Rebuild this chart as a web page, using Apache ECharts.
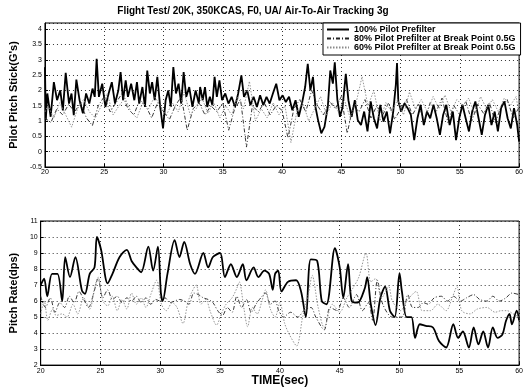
<!DOCTYPE html>
<html>
<head>
<meta charset="utf-8">
<title>Flight Test</title>
<script src="https://cdn.jsdelivr.net/npm/echarts@6/dist/echarts.min.js"></script>
<style>
  html, body { margin: 0; padding: 0; background: #fff; }
  #main { width: 526px; height: 388px; }
</style>
</head>
<body>
<div id="main"></div>
<script>
// axis ticks
var timeTicks = [20, 25, 30, 35, 40, 45, 50, 55, 60];
var stickTicks = [-0.5, 0, 0.5, 1, 1.5, 2, 2.5, 3, 3.5, 4];
var rateTicks = [2, 3, 4, 5, 6, 7, 8, 9, 10, 11];
var seriesNames = [
  "100% Pilot Prefilter",
  "80% Pilot Prefilter at Break Point 0.5G",
  "60% Pilot Prefilter at Break Point 0.5G"
];

// top: pilot pitch stick (G's), [time, value]
var stickFull = [[20,2.76],[20.07,1.03],[20.2,1.9],[20.48,1.14],[20.75,2.27],[21.02,1.68],[21.29,2.0],[21.51,1.35],[21.75,2.57],[22.03,1.57],[22.24,1.9],[22.43,1.19],[22.65,2.35],[22.92,1.68],[23.2,1.25],[23.47,1.9],[23.74,1.57],[24.01,2.06],[24.2,1.79],[24.36,3.03],[24.55,1.79],[24.83,2.22],[25.1,1.46],[25.37,1.9],[25.64,2.27],[25.91,1.57],[26.19,2.0],[26.38,2.6],[26.59,1.68],[26.81,2.33],[27.0,1.79],[27.27,2.22],[27.54,1.68],[27.76,2.27],[27.95,1.57],[28.22,2.11],[28.44,1.46],[28.63,2.65],[28.85,1.9],[29.04,2.27],[29.26,1.68],[29.48,2.44],[29.72,1.46],[29.96,0.76],[30.18,1.68],[30.4,2.0],[30.62,1.46],[30.83,2.76],[31.05,1.9],[31.27,2.22],[31.49,1.57],[31.7,2.6],[31.92,1.79],[32.17,2.11],[32.44,1.46],[32.71,2.0],[32.98,1.57],[33.09,2.11],[33.31,1.68],[33.5,2.11],[33.69,1.46],[33.91,1.79],[34.12,1.52],[34.31,2.44],[34.5,1.79],[34.72,2.33],[34.94,1.68],[35.21,1.9],[35.48,1.57],[35.75,1.79],[36.03,1.46],[36.3,1.9],[36.57,2.49],[36.79,1.79],[37.06,2.0],[37.33,1.52],[37.6,1.79],[37.88,1.46],[38.15,1.84],[38.42,1.52],[38.69,1.79],[38.96,1.57],[39.23,1.9],[39.51,2.22],[39.78,1.68],[40.05,1.84],[40.32,1.62],[40.59,1.79],[40.87,1.35],[41.14,1.68],[41.41,1.14],[41.68,1.57],[41.95,2.11],[42.17,2.87],[42.39,2.0],[42.61,2.44],[42.82,1.46],[43.04,1.03],[43.31,0.6],[43.58,0.81],[43.86,1.46],[44.07,2.65],[44.29,2.22],[44.45,2.92],[44.67,1.68],[44.89,1.14],[45.11,1.46],[45.38,2.54],[45.6,1.68],[45.87,1.14],[46.14,1.68],[46.39,1.03],[46.66,0.87],[46.93,1.31],[47.21,0.66],[47.48,1.64],[47.75,1.09],[48.02,0.76],[48.29,1.53],[48.56,0.98],[48.84,1.31],[49.11,0.6],[49.38,1.31],[49.6,2.18],[49.7,2.89],[49.81,1.64],[50.06,1.31],[50.33,1.58],[50.6,1.42],[50.87,1.2],[51.15,0.38],[51.42,1.09],[51.69,1.53],[51.96,0.87],[52.23,1.31],[52.5,1.09],[52.78,1.53],[53.05,1.09],[53.32,0.55],[53.59,1.2],[53.86,1.53],[54.14,0.87],[54.41,1.31],[54.68,0.38],[54.95,1.09],[55.22,1.53],[55.49,1.09],[55.77,0.66],[56.04,1.31],[56.31,1.64],[56.58,1.09],[56.85,0.55],[57.12,1.2],[57.4,1.53],[57.67,0.87],[57.94,1.31],[58.21,0.66],[58.48,1.42],[58.76,1.64],[59.03,1.09],[59.3,0.76],[59.57,1.42],[59.84,0.87],[60,0.33]];
var stick80 = [[20,1.1],[20.5,0.95],[21,1.4],[21.5,1.2],[22,1.55],[22.5,1.3],[23,1.6],[23.5,1.1],[24,0.85],[24.5,1.5],[25,1.8],[25.5,1.3],[26,1.6],[26.5,1.9],[27,1.4],[27.5,1.2],[28,1.7],[28.5,1.5],[29,1.1],[29.5,1.6],[30,1.3],[30.5,1.05],[31,1.5],[31.5,1.8],[32,0.7],[32.5,1.4],[33,1.6],[33.5,1.2],[34,1.5],[34.5,1.3],[35,1.6],[35.5,0.7],[36,1.4],[36.5,1.7],[37,0.15],[37.5,1.5],[38,1.3],[38.5,1.6],[39,1.2],[39.5,1.5],[40,1.35],[40.5,0.45],[41,1.4],[41.5,1.7],[42,1.3],[42.5,2.0],[43,1.5],[43.5,1.2],[44,1.65],[44.5,1.4],[45,1.8],[45.5,0.6],[46,1.5],[46.5,1.3],[47,1.7],[47.5,1.1],[48,1.5],[48.5,1.2],[49,1.6],[49.5,1.05],[50,1.4],[50.5,1.7],[51,1.2],[51.5,1.55],[52,1.0],[52.5,1.6],[53,1.3],[53.5,1.75],[54,0.95],[54.5,1.5],[55,1.2],[55.5,1.65],[56,1.0],[56.5,1.55],[57,1.25],[57.5,1.6],[58,0.95],[58.5,1.5],[59,1.7],[59.5,1.1],[60,1.45]];
var stick60 = [[20,1.3],[20.25,1.5],[20.75,1.1],[21.25,1.6],[21.75,1.2],[22.25,0.8],[22.75,1.4],[23.25,1.7],[23.75,1.3],[24.25,1.1],[24.75,1.5],[25.25,1.9],[25.75,1.2],[26.25,1.5],[26.75,1.75],[27.25,1.3],[27.75,1.1],[28.25,1.6],[28.75,1.4],[29.25,1.8],[29.75,1.5],[30.25,1.2],[30.75,1.6],[31.25,1.3],[31.75,1.95],[32.25,1.2],[32.75,1.4],[33.25,1.75],[33.75,1.25],[34.25,1.6],[34.75,1.1],[35.25,1.5],[35.75,1.2],[36.25,1.8],[36.75,1.4],[37.25,2.3],[37.75,1.0],[38.25,1.4],[38.75,1.1],[39.25,1.6],[39.75,1.2],[40.25,1.5],[40.75,0.3],[41.25,1.3],[41.75,1.6],[42.25,1.0],[42.75,1.4],[43.25,1.8],[43.75,1.2],[44.25,1.6],[44.75,1.3],[45.25,1.7],[45.75,1.1],[46.25,1.6],[46.75,2.45],[47.25,1.5],[47.75,2.0],[48.25,1.0],[48.75,1.6],[49.25,1.3],[49.75,1.7],[50.25,1.2],[50.75,1.95],[51.25,1.4],[51.75,1.7],[52.25,1.3],[52.75,1.8],[53.25,1.4],[53.75,1.85],[54.25,1.3],[54.75,1.7],[55.25,1.5],[55.75,1.75],[56.25,1.2],[56.75,1.8],[57.25,1.4],[57.75,1.7],[58.25,1.3],[58.75,1.75],[59.25,1.5],[59.75,1.8],[60,1.2]];

// bottom: pitch rate (dps), [time, value]
var rateFull = [[20,7.0],[20.29,7.4],[20.55,6.3],[20.95,7.7],[21.4,7.7],[21.8,6.0],[22.05,8.75],[22.45,7.5],[22.9,8.75],[23.45,6.65],[23.7,6.45],[24.1,7.7],[24.5,8.1],[24.7,10.0],[25.05,9.2],[25.6,7.1],[26.0,7.7],[26.6,8.75],[27.2,9.2],[27.6,8.5],[28.0,8.1],[28.4,7.8],[29.0,9.4],[29.4,7.9],[29.8,9.4],[30.05,6.5],[30.2,6.0],[30.6,7.7],[31.2,9.8],[31.6,8.75],[32.0,9.7],[32.5,8.3],[32.9,7.7],[33.6,9.0],[34.0,8.1],[34.4,8.75],[35.0,9.0],[35.4,7.5],[35.9,8.3],[36.4,7.5],[36.9,8.3],[37.2,7.3],[37.8,8.1],[38.2,7.5],[38.7,7.9],[39.1,7.7],[39.4,6.7],[39.6,7.7],[39.86,7.9],[40.13,6.6],[40.67,7.2],[41.36,7.3],[41.77,6.6],[42.17,5.0],[42.58,8.6],[43.12,8.5],[43.5,6.0],[43.9,5.8],[44.6,9.3],[45.0,8.1],[45.3,6.2],[45.7,8.3],[46.0,6.0],[46.5,5.9],[47.1,6.8],[47.3,7.5],[47.6,5.8],[48.0,4.5],[48.4,6.2],[48.8,6.9],[49.2,5.4],[49.6,5.0],[50.0,7.75],[50.2,6.6],[50.6,5.0],[51.0,5.0],[51.3,3.7],[51.7,4.55],[52.2,4.45],[52.8,4.35],[53.3,3.5],[53.9,3.1],[54.5,4.55],[54.9,3.7],[55.3,4.1],[55.8,3.1],[56.2,4.35],[56.6,3.3],[57.0,4.1],[57.4,3.1],[57.8,4.35],[58.2,3.7],[58.6,3.9],[58.9,4.75],[59.2,5.2],[59.4,4.55],[59.8,5.4],[60,4.8]];
var rate80 = [[20,6.3],[20.4,5.6],[20.8,6.2],[21.2,5.3],[21.6,5.9],[22.0,5.6],[22.4,6.3],[22.8,5.9],[23.2,6.6],[23.6,6.1],[24.0,5.6],[24.4,6.4],[24.8,7.4],[25.2,6.2],[25.6,6.7],[26.0,6.1],[26.4,6.3],[26.8,5.9],[27.2,6.2],[27.6,6.0],[28.0,6.3],[28.4,5.9],[28.8,6.2],[29.2,5.8],[29.6,6.1],[30.0,6.0],[30.4,6.2],[30.8,5.9],[31.2,6.0],[31.6,6.1],[32.0,6.0],[32.4,5.8],[32.8,6.5],[33.2,6.4],[33.6,6.2],[34.0,6.1],[34.4,5.9],[34.8,5.4],[35.2,5.1],[35.6,5.6],[36.0,5.3],[36.4,6.3],[36.8,5.6],[37.2,6.1],[37.6,5.3],[38.0,5.8],[38.4,6.2],[38.8,6.5],[39.2,5.8],[39.6,6.0],[39.9,5.4],[40.3,5.0],[40.9,5.3],[41.5,5.0],[42.0,5.4],[42.6,5.6],[43.0,5.0],[43.7,4.2],[44.2,5.6],[44.8,5.4],[45.3,6.2],[45.8,5.6],[46.4,6.4],[46.9,5.4],[47.4,5.9],[47.75,4.8],[48.15,7.3],[48.6,5.8],[49.4,5.0],[50.2,5.0],[50.7,6.4],[51.1,5.6],[51.55,5.6],[52.0,5.9],[52.4,5.8],[52.9,6.2],[53.5,6.3],[54.0,6.0],[54.5,6.3],[55.1,6.0],[55.6,6.2],[56.2,6.4],[56.7,6.1],[57.3,6.0],[57.8,6.3],[58.35,6.0],[58.9,6.2],[59.4,6.5],[60,6.4]];
var rate60 = [[20,5.2],[20.3,6.0],[20.6,4.8],[21.0,5.5],[21.3,5.1],[21.8,5.2],[22.2,5.0],[22.7,5.8],[23.1,5.2],[23.6,6.2],[24.1,5.5],[24.5,6.8],[24.8,7.5],[25.2,6.0],[25.6,5.7],[26.0,6.3],[26.4,5.4],[26.8,6.1],[27.2,5.5],[27.6,6.5],[28.0,5.8],[28.4,6.2],[28.8,5.6],[29.2,6.4],[29.7,7.3],[30.1,5.8],[30.5,5.4],[31.0,5.9],[31.4,5.6],[31.9,4.6],[32.3,5.9],[32.6,6.5],[33.0,7.0],[33.4,5.8],[33.8,6.1],[34.2,5.3],[34.7,4.5],[35.1,5.2],[35.5,5.8],[36.0,6.2],[36.4,6.8],[36.6,7.2],[37.0,5.5],[37.3,4.4],[37.7,5.6],[38.1,5.2],[38.5,6.0],[38.8,6.7],[39.2,5.5],[39.6,5.0],[40.0,5.9],[40.4,4.6],[40.8,3.9],[41.4,3.2],[41.9,5.0],[42.4,6.5],[42.7,7.6],[43.2,5.6],[43.7,4.35],[44.4,5.8],[45.0,5.3],[45.6,6.2],[46.1,6.8],[46.6,7.5],[47.2,9.0],[47.6,7.2],[48.0,7.4],[48.5,6.2],[49.1,6.9],[49.4,6.0],[50.1,5.4],[50.6,6.0],[51.4,6.6],[51.9,5.4],[52.6,5.4],[53.2,5.8],[53.9,5.4],[54.4,6.2],[54.8,6.9],[55.2,5.4],[55.9,5.2],[56.5,5.5],[57.3,5.6],[58.0,5.3],[58.5,5.4],[59.0,5.4],[59.5,5.2],[60,5.0]];

var chartDom = document.getElementById("main");
var myChart = echarts.init(chartDom, null, { renderer: "canvas" });

var font = "Liberation Sans, Arial, sans-serif";
var gridLine = { show: true, lineStyle: { color: "#000", width: 0.8, type: [1, 3] } };

function xAxisFor(idx, withName) {
  return {
    type: "value",
    gridIndex: idx,
    min: timeTicks[0],
    max: timeTicks[timeTicks.length - 1],
    interval: timeTicks[1] - timeTicks[0],
    name: withName ? "TIME(sec)" : "",
    nameLocation: "middle",
    nameGap: 6,
    nameTextStyle: { fontFamily: font, fontWeight: "bold", fontSize: 12, color: "#000" },
    axisLine: { show: true, onZero: false, lineStyle: { color: "#000", width: 1 } },
    axisTick: { show: true, inside: true, length: 3, lineStyle: { color: "#000" } },
    axisLabel: { fontFamily: font, fontSize: 7, color: "#000", margin: 2 },
    splitLine: gridLine
  };
}

function yAxisFor(idx, ticks, maxVal, name) {
  return {
    type: "value",
    gridIndex: idx,
    min: ticks[0],
    max: maxVal,
    interval: ticks[1] - ticks[0],
    name: name,
    nameLocation: "middle",
    nameGap: 17,
    nameTextStyle: { fontFamily: font, fontWeight: "bold", fontSize: 11, color: "#000" },
    axisLine: { show: true, onZero: false, lineStyle: { color: "#000", width: 1 } },
    axisTick: { show: true, inside: true, length: 3, lineStyle: { color: "#000" } },
    axisLabel: { fontFamily: font, fontSize: 7, color: "#000", margin: 3, showMaxLabel: maxVal === ticks[ticks.length - 1] },
    splitLine: gridLine
  };
}

var styles = [
  { color: "#000", width: 1.8, type: "solid" },
  { color: "#222", width: 0.9, type: [4, 2, 1, 2] },
  { color: "#8a8a8a", width: 0.9, type: [1.5, 1.5] }
];

function lineSeries(i, data, axisIdx, smooth) {
  return {
    name: seriesNames[i],
    type: "line",
    xAxisIndex: axisIdx,
    yAxisIndex: axisIdx,
    data: data,
    symbol: "none",
    showSymbol: false,
    smooth: smooth,
    lineStyle: styles[i],
    itemStyle: { color: styles[i].color },
    z: 2 + i
  };
}

var option = {
  animation: false,
  backgroundColor: "#fff",
  title: {
    text: "Flight Test/ 20K, 350KCAS, F0, UA/ Air-To-Air Tracking 3g",
    left: 253,
    textAlign: "center",
    top: 6,
    padding: 0,
    textStyle: { fontFamily: font, fontWeight: "bold", fontSize: 10, color: "#000" }
  },
  legend: {
    data: seriesNames,
    orient: "vertical",
    left: 323,
    top: 23,
    itemGap: 0,
    itemWidth: 22,
    itemHeight: 8,
    padding: [2, 5, 3, 3],
    backgroundColor: "#fff",
    borderColor: "#000",
    borderWidth: 1,
    itemStyle: { opacity: 0 },
    textStyle: { fontFamily: font, fontWeight: "bold", fontSize: 9, lineHeight: 9, color: "#000" }
  },
  grid: [
    { left: 36.5, top: 23, width: 488, height: 144, show: true, borderColor: "#000", borderWidth: 1, backgroundColor: "transparent" },
    { left: 36.5, top: 221, width: 488, height: 145, show: true, borderColor: "#000", borderWidth: 1, backgroundColor: "transparent" }
  ],
  xAxis: [xAxisFor(0, false), xAxisFor(1, true)],
  yAxis: [
    yAxisFor(0, stickTicks, 4.2, "Pilot Pitch Stick(G's)"),
    yAxisFor(1, rateTicks, rateTicks[rateTicks.length - 1], "Pitch Rate(dps)")
  ],
  series: [
    lineSeries(0, stickFull, 0, false),
    lineSeries(1, stick80, 0, false),
    lineSeries(2, stick60, 0, false),
    lineSeries(0, rateFull, 1, 0.3),
    lineSeries(1, rate80, 1, 0.3),
    lineSeries(2, rate60, 1, 0.3)
  ]
};

option && myChart.setOption(option);
</script>
</body>
</html>
